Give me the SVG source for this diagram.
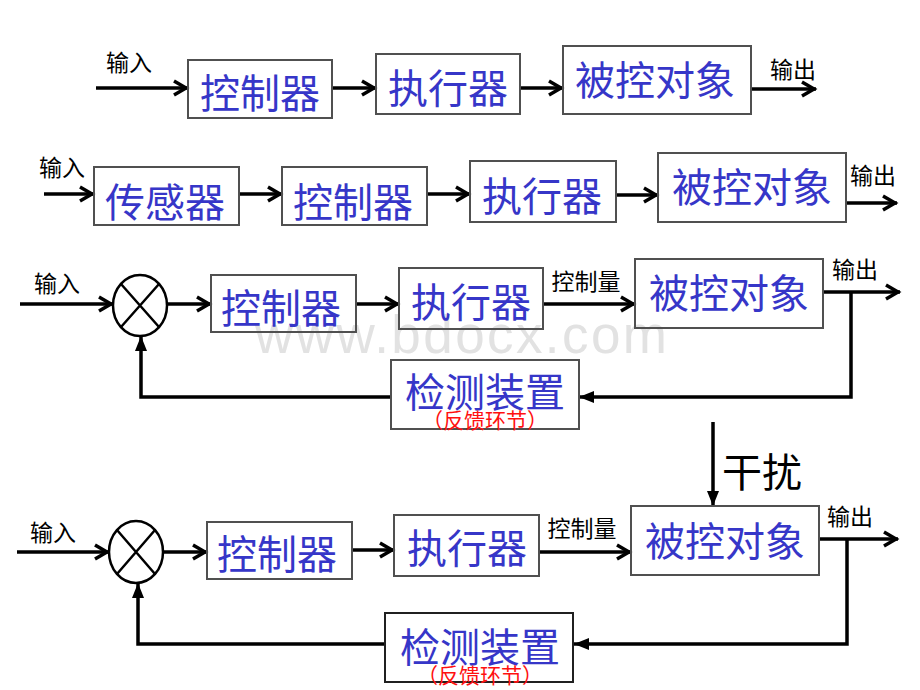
<svg xmlns="http://www.w3.org/2000/svg" width="920" height="690" viewBox="0 0 920 690">
<defs>
<style>
.box{fill:none;stroke:#505050;stroke-width:2}
.bt{font-family:"Noto Sans CJK SC","Liberation Sans",sans-serif;font-size:40px;fill:#3636c8;text-anchor:middle;dominant-baseline:central}
.rt{font-family:"Noto Sans CJK SC","Liberation Sans",sans-serif;font-size:21px;fill:#ff1010;text-anchor:middle;dominant-baseline:central}
.lb{font-family:"Noto Sans CJK SC","Liberation Sans",sans-serif;font-size:23px;fill:#000;text-anchor:middle;dominant-baseline:central}
.ln{fill:none;stroke:#000;stroke-width:3.5}
.ch{marker-end:url(#chev)}
.tr{marker-end:url(#tri)}
.sum{fill:#fff;stroke:#000;stroke-width:2.5}
</style>
<marker id="chev" markerUnits="userSpaceOnUse" markerWidth="22" markerHeight="22" refX="16" refY="9" orient="auto">
<path d="M2,2 L14,9 L2,16" fill="none" stroke="#000" stroke-width="3.5"/>
</marker>
<marker id="tri" markerUnits="userSpaceOnUse" markerWidth="16" markerHeight="14" refX="15" refY="6" orient="auto">
<path d="M0,0 L15,6 L0,12 z" fill="#000"/>
</marker>
</defs>
<rect width="920" height="690" fill="#fff"/>
<text x="255" y="353" font-family="Liberation Sans,Arial,sans-serif" font-size="53" fill="#e2e2e2" textLength="412" lengthAdjust="spacing">www.bdocx.com</text>

<g id="connectors">
<!-- row 1 -->
<line class="ln ch" x1="96" y1="88" x2="188" y2="88"/>
<line class="ln ch" x1="332" y1="88" x2="376" y2="88"/>
<line class="ln ch" x1="520" y1="88" x2="563" y2="88"/>
<line class="ln ch" x1="751" y1="89" x2="816" y2="89"/>
<!-- row 2 -->
<line class="ln ch" x1="44" y1="194" x2="94" y2="194"/>
<line class="ln ch" x1="239" y1="194" x2="282" y2="194"/>
<line class="ln ch" x1="427" y1="194" x2="470" y2="194"/>
<line class="ln ch" x1="616" y1="195" x2="658" y2="195"/>
<line class="ln ch" x1="846" y1="203" x2="897" y2="203"/>
<!-- row 3 -->
<line class="ln ch" x1="20" y1="304" x2="113" y2="304"/>
<line class="ln ch" x1="167" y1="304" x2="211" y2="304"/>
<line class="ln ch" x1="356" y1="304" x2="399" y2="304"/>
<line class="ln ch" x1="543" y1="304" x2="635" y2="304"/>
<line class="ln ch" x1="823" y1="292" x2="900" y2="292"/>
<path class="ln tr" d="M851,292 V397 H579"/>
<path class="ln tr" d="M391,397 H141 V336"/>
<!-- row 4 -->
<line class="ln ch" x1="17" y1="552" x2="109" y2="552"/>
<line class="ln ch" x1="163" y1="552" x2="207" y2="552"/>
<line class="ln ch" x1="352" y1="550" x2="394" y2="550"/>
<line class="ln ch" x1="539" y1="552" x2="631" y2="552"/>
<line class="ln tr" x1="713" y1="422" x2="713" y2="506"/>
<line class="ln ch" x1="819" y1="539" x2="898" y2="539"/>
<path class="ln tr" d="M847,539 V644 H574"/>
<path class="ln tr" d="M385,644 H138 V583"/>
</g>

<g id="labels">
<text class="lb" x="129" y="61">输入</text>
<text class="lb" x="793" y="68">输出</text>
<text class="lb" x="62" y="166">输入</text>
<text class="lb" x="873" y="174">输出</text>
<text class="lb" x="57" y="282">输入</text>
<text class="lb" x="586" y="280">控制量</text>
<text class="lb" x="855" y="268">输出</text>
<text class="lb" x="53" y="531">输入</text>
<text class="lb" x="582" y="527">控制量</text>
<text class="lb" x="850" y="515">输出</text>
<text class="lb" x="762" y="470" style="font-size:40px">干扰</text>
</g>

<!-- row 1 -->
<g id="r1-controller"><rect class="box" x="188" y="60" width="144" height="58"/><text class="bt" x="260" y="91">控制器</text></g>
<g id="r1-actuator"><rect class="box" x="376" y="54" width="144" height="60"/><text class="bt" x="448" y="86">执行器</text></g>
<g id="r1-plant"><rect class="box" x="563" y="46" width="188" height="68"/><text class="bt" x="655" y="78">被控对象</text></g>

<!-- row 2 -->
<g id="r2-sensor"><rect class="box" x="94" y="167" width="145" height="58"/><text class="bt" x="165" y="200">传感器</text></g>
<g id="r2-controller"><rect class="box" x="282" y="167" width="145" height="58"/><text class="bt" x="353" y="200">控制器</text></g>
<g id="r2-actuator"><rect class="box" x="470" y="161" width="146" height="61"/><text class="bt" x="542" y="194">执行器</text></g>
<g id="r2-plant"><rect class="box" x="658" y="153" width="188" height="69"/><text class="bt" x="752" y="185">被控对象</text></g>

<!-- row 3 -->
<g id="r3-sum"><ellipse class="sum" cx="140" cy="305.5" rx="27" ry="30.5"/><path d="M121,284 L159,327 M159,284 L121,327" stroke="#000" stroke-width="2.5"/></g>
<g id="r3-controller"><rect class="box" x="211" y="275" width="145" height="57"/><text class="bt" x="281" y="306">控制器</text></g>
<g id="r3-actuator"><rect class="box" x="399" y="268" width="144" height="61"/><text class="bt" x="471" y="300">执行器</text></g>
<g id="r3-plant"><rect class="box" x="635" y="259" width="188" height="69"/><text class="bt" x="729" y="291">被控对象</text></g>
<g id="r3-sensor"><rect class="box" x="391" y="360" width="188" height="69"/><text class="bt" x="485" y="390">检测装置</text><text class="rt" x="485" y="419">（反馈环节）</text></g>

<!-- row 4 -->
<g id="r4-sum"><ellipse class="sum" cx="136" cy="552" rx="27" ry="31"/><path d="M117,530 L155,574 M155,530 L117,574" stroke="#000" stroke-width="2.5"/></g>
<g id="r4-controller"><rect class="box" x="207" y="522" width="145" height="57"/><text class="bt" x="277" y="552">控制器</text></g>
<g id="r4-actuator"><rect class="box" x="394" y="515" width="145" height="61"/><text class="bt" x="467" y="546">执行器</text></g>
<g id="r4-plant"><rect class="box" x="631" y="506" width="188" height="69"/><text class="bt" x="725" y="539">被控对象</text></g>
<g id="r4-sensor"><rect class="box" x="385" y="613" width="188" height="69" style="stroke:#202020"/><text class="bt" x="480" y="645">检测装置</text><text class="rt" x="480" y="674">（反馈环节）</text></g>
</svg>
